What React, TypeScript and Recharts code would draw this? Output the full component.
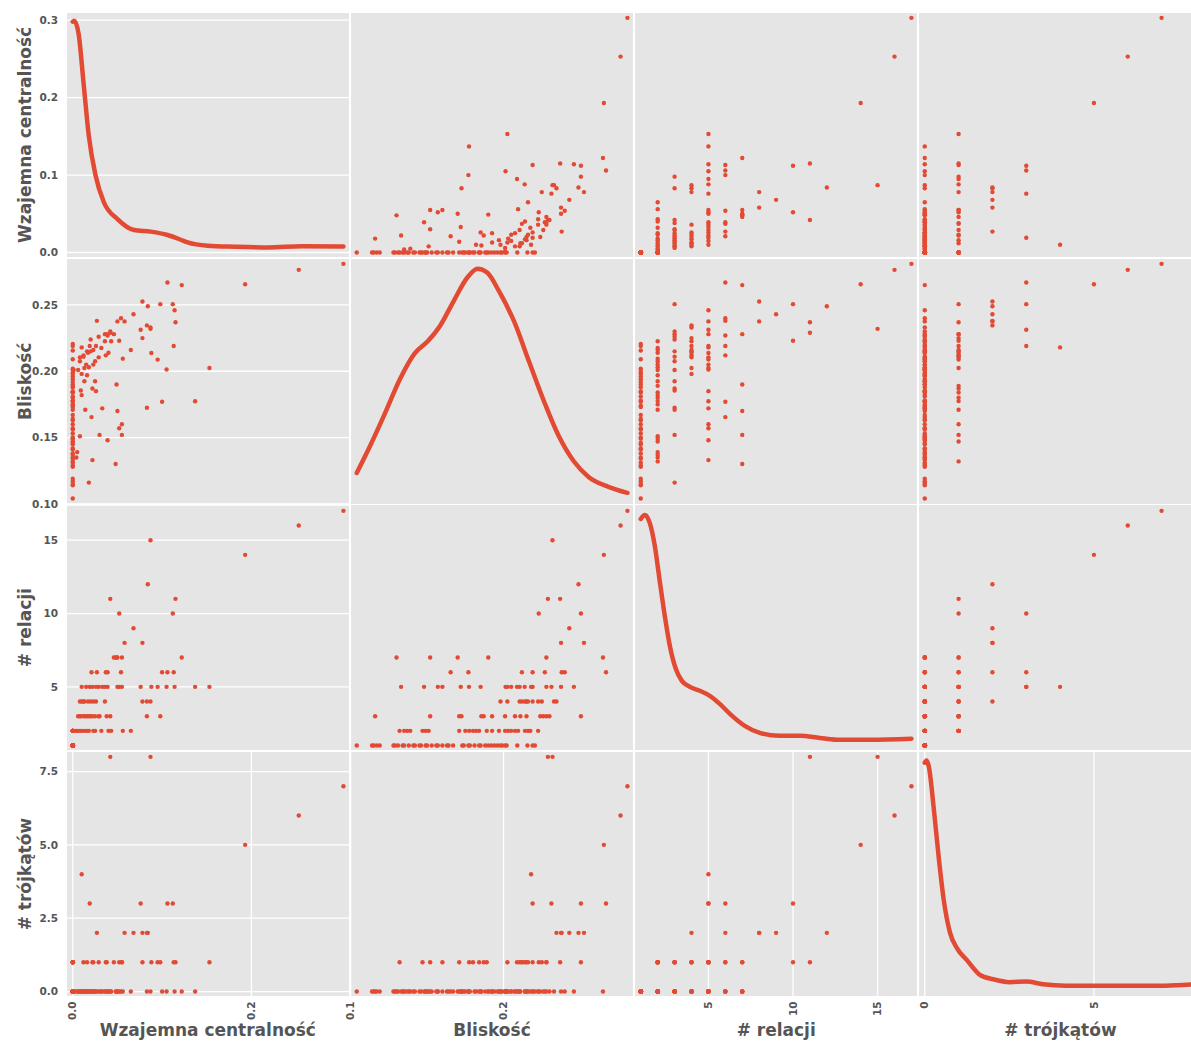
import React from "react";
import {
  ScatterChart,
  Scatter,
  ComposedChart,
  Line,
  XAxis,
  YAxis,
  CartesianGrid,
} from "recharts";

const RED = "#E24A33";
const PANEL_BG = "#E5E5E5";
const TEXT = "#555555";
const FONT = "'DejaVu Sans', Verdana, sans-serif";

// layout of the 4x4 grid (page pixels)
const LEFT = 65.7;
const TOP = 11.7;
const PW = 284.2;
const PH = 246.4;
const YAXIS_W = 60;
const XAXIS_H = 40;
const M = 12; // spare room round each chart so edge tick labels are not cut

// one entry per node, grouped by degree (17 ... 1)
const degree = [
  17, 16, 15, 14, 12, 11, 11, 10, 10, 9, 8, 8,
  7, 7, 7, 7, 7, 7,
  6, 6, 6, 6, 6, 6, 6, 6,
  5, 5, 5, 5, 5, 5, 5, 5, 5, 5, 5, 5, 5, 5, 5, 5, 5, 5, 5,
  4, 4, 4, 4, 4, 4, 4, 4, 4, 4, 4, 4,
  3, 3, 3, 3, 3, 3, 3, 3, 3, 3, 3, 3, 3, 3, 3, 3,
  2, 2, 2, 2, 2, 2, 2, 2, 2, 2, 2, 2, 2, 2, 2, 2, 2, 2, 2, 2, 2, 2, 2, 2, 2,
  1, 1, 1, 1, 1, 1, 1, 1, 1, 1, 1, 1, 1, 1, 1, 1, 1, 1, 1, 1, 1, 1,
  1, 1, 1, 1, 1, 1, 1, 1, 1, 1, 1, 1, 1, 1, 1, 1, 1, 1, 1, 1, 1, 1,
];

const triangles = [
  7, 6, 8, 5, 2, 1, 8, 3, 1, 2, 2, 2,
  0, 1, 0, 0, 1, 0,
  3, 0, 2, 0, 1, 0, 1, 0,
  1, 0, 0, 0, 1, 1, 3, 1, 0, 0, 0, 0, 0, 1, 0, 3, 4, 0, 0,
  0, 2, 1, 0, 0, 1, 0, 0, 1, 0, 0, 0,
  1, 0, 0, 1, 0, 0, 0, 1, 0, 0, 0, 0, 1, 0, 0, 0,
  0, 0, 0, 0, 0, 0, 0, 0, 0, 0, 0, 0, 0, 0, 0, 1, 1, 1, 1, 0, 1, 0, 1, 0, 1,
  0, 0, 0, 0, 0, 0, 0, 0, 0, 0, 0, 0, 0, 0, 0, 0, 0, 0, 0, 0, 0, 0,
  0, 0, 0, 0, 0, 0, 0, 0, 0, 0, 0, 0, 0, 0, 0, 0, 0, 0, 0, 0, 0, 0,
];

const betweenness = [
  0.303, 0.253, 0.087, 0.193, 0.084, 0.115, 0.042, 0.112, 0.052, 0.068, 0.078, 0.058,
  0.122, 0.046, 0.049, 0.05, 0.055, 0.048,
  0.106, 0.054, 0.027, 0.1, 0.113, 0.039, 0.037, 0.021,
  0.153, 0.137, 0.114, 0.105, 0.095, 0.088, 0.076, 0.055, 0.052, 0.05, 0.039, 0.036, 0.033,
  0.029, 0.026, 0.019, 0.01, 0.015, 0.022,
  0.087, 0.083, 0.078, 0.036, 0.026, 0.023, 0.02, 0.017, 0.012, 0.008, 0.013, 0.01,
  0.098, 0.083, 0.042, 0.038, 0.029, 0.02, 0.018, 0.016, 0.012, 0.008, 0.006, 0.025, 0.022,
  0.009, 0.014, 0.03,
  0.065, 0.056, 0.043, 0.04, 0.032, 0.025, 0.023, 0.018, 0.016, 0.013, 0.01, 0.008, 0.005,
  0.004, 0.001, 0, 0, 0, 0, 0, 0, 0, 0, 0, 0,
  0, 0, 0, 0, 0, 0, 0, 0, 0, 0, 0, 0, 0, 0, 0, 0, 0, 0, 0, 0, 0, 0,
  0, 0, 0, 0, 0, 0, 0, 0, 0, 0, 0, 0, 0, 0, 0, 0, 0, 0, 0, 0, 0, 0,
];

const closeness = [
  0.281, 0.2765, 0.232, 0.2656, 0.249, 0.237, 0.229, 0.2506, 0.223, 0.243, 0.2526, 0.2376,
  0.265, 0.228, 0.19, 0.17, 0.152, 0.13,
  0.267, 0.24, 0.238, 0.177, 0.219, 0.227, 0.212, 0.1654,
  0.2025, 0.1774, 0.246, 0.2013, 0.2088, 0.2138, 0.2313, 0.16, 0.157, 0.2376, 0.148, 0.228,
  0.172, 0.2105, 0.185, 0.219, 0.218, 0.205, 0.133,
  0.233, 0.2346, 0.225, 0.2226, 0.219, 0.216, 0.215, 0.214, 0.212, 0.2105, 0.2025, 0.198,
  0.2506, 0.1725, 0.23, 0.228, 0.226, 0.224, 0.116, 0.215, 0.211, 0.2075, 0.201, 0.1925,
  0.187, 0.1855, 0.171, 0.152,
  0.216, 0.2095, 0.2226, 0.214, 0.2175, 0.2075, 0.205, 0.203, 0.197, 0.1925, 0.182, 0.151,
  0.139, 0.135, 0.201, 0.189, 0.184, 0.18, 0.1775, 0.175, 0.171, 0.149, 0.147, 0.137, 0.132,
  0.104, 0.114, 0.115, 0.117, 0.119, 0.128, 0.129, 0.131, 0.134, 0.135, 0.138, 0.141, 0.142,
  0.145, 0.146, 0.149, 0.15, 0.153, 0.156, 0.157, 0.16, 0.163,
  0.164, 0.167, 0.173, 0.174, 0.177, 0.178, 0.181, 0.184, 0.185, 0.188, 0.19, 0.192, 0.194,
  0.196, 0.198, 0.199, 0.201, 0.202, 0.209, 0.2156, 0.219, 0.2205,
];

// density curves on the diagonal in the row variable's units
const btwKdeX = [0, 0.0017, 0.0065, 0.0122, 0.0178, 0.0254, 0.0347, 0.0498, 0.0685, 0.0874, 0.1062, 0.121, 0.1287, 0.1513, 0.1813, 0.219, 0.2565, 0.303];
const btwKdeY = [0.298, 0.2993, 0.2826, 0.2174, 0.1522, 0.1, 0.0652, 0.0434, 0.0291, 0.027, 0.0226, 0.0165, 0.013, 0.0087, 0.0074, 0.0065, 0.0082, 0.0078];

const cloKdeX = [0.104, 0.1127, 0.1225, 0.1322, 0.1419, 0.1504, 0.1582, 0.1679, 0.1763, 0.1829, 0.1893, 0.1971, 0.2069, 0.2166, 0.2264, 0.2361, 0.2458, 0.2556, 0.2686, 0.281];
const cloKdeY = [0.1233, 0.1436, 0.1684, 0.194, 0.2135, 0.2226, 0.2338, 0.2541, 0.2707, 0.2774, 0.2744, 0.2602, 0.2376, 0.2075, 0.1774, 0.1511, 0.1323, 0.1203, 0.1128, 0.1083];

const degKdeX = [1, 1.24, 1.53, 1.83, 2.12, 2.42, 2.72, 3.07, 3.43, 3.9, 4.49, 5.08, 5.67, 6.27, 7.15, 8.04, 9.22, 10.41, 11.59, 12.78, 14.55, 17];
const degKdeY = [16.45, 16.72, 16.18, 14.61, 12.23, 9.84, 7.79, 6.23, 5.41, 5.0, 4.73, 4.39, 3.84, 3.16, 2.34, 1.86, 1.66, 1.66, 1.52, 1.39, 1.39, 1.46];

const triKdeX = [0, 0.05, 0.12, 0.26, 0.41, 0.56, 0.75, 0.95, 1.24, 1.63, 2.02, 2.51, 3.0, 3.49, 4.18, 5.15, 6.13, 7.11, 8];
const triKdeY = [7.8, 7.88, 7.67, 6.31, 4.6, 3.13, 1.99, 1.48, 1.08, 0.57, 0.42, 0.32, 0.34, 0.25, 0.2, 0.2, 0.2, 0.2, 0.25];

// tick values
const btwYTicks = [0, 0.1, 0.2, 0.3];
const btwXTicks = [0, 0.2];
const cloYTicks = [0.1, 0.15, 0.2, 0.25];
const cloXTicks = [0.1, 0.2];
const degYTicks = [5, 10, 15];
const degXTicks = [5, 10, 15];
const triYTicks = [0, 2.5, 5, 7.5];
const triXTicks = [0, 5];

type Variable = {
  name: string;
  values: number[];
  yTicks: number[];
  xTicks: number[];
  yDigits: number;
  xDigits: number;
  kdeX: number[];
  kdeY: number[];
};

const variables: Variable[] = [
  { name: "Wzajemna centralność", values: betweenness, yTicks: btwYTicks, xTicks: btwXTicks, yDigits: 1, xDigits: 1, kdeX: btwKdeX, kdeY: btwKdeY },
  { name: "Bliskość", values: closeness, yTicks: cloYTicks, xTicks: cloXTicks, yDigits: 2, xDigits: 1, kdeX: cloKdeX, kdeY: cloKdeY },
  { name: "# relacji", values: degree, yTicks: degYTicks, xTicks: degXTicks, yDigits: 0, xDigits: 0, kdeX: degKdeX, kdeY: degKdeY },
  { name: "# trójkątów", values: triangles, yTicks: triYTicks, xTicks: triXTicks, yDigits: 1, xDigits: 0, kdeX: triKdeX, kdeY: triKdeY },
];

function paddedDomain(values: number[]): [number, number] {
  const lo = Math.min(...values);
  const hi = Math.max(...values);
  const pad = (hi - lo) * 0.025;
  return [lo - pad, hi + pad];
}

const tickStyle = { fontFamily: FONT, fontSize: 10.5, fontWeight: 700, fill: TEXT };

function YTick(props: any, digits: number) {
  const { x, y, payload } = props;
  return (
    <text x={x} y={y} dy="0.35em" textAnchor="end" {...tickStyle}>
      {Number(payload.value).toFixed(digits)}
    </text>
  );
}

function XTick(props: any, digits: number) {
  const { x, y, payload } = props;
  return (
    <text
      x={x}
      y={y}
      dy="0.35em"
      textAnchor="end"
      transform={`rotate(-90 ${x} ${y})`}
      {...tickStyle}
    >
      {Number(payload.value).toFixed(digits)}
    </text>
  );
}

function Panel({ row, col }: { row: number; col: number }) {
  const xv = variables[col];
  const yv = variables[row];
  const isLeft = col === 0;
  const isBottom = row === 3;
  const width = PW + (isLeft ? YAXIS_W : 0) + 2 * M;
  const height = PH + (isBottom ? XAXIS_H : 0) + 2 * M;
  const pos: React.CSSProperties = {
    position: "absolute",
    left: LEFT + col * PW - (isLeft ? YAXIS_W : 0) - M,
    top: TOP + row * PH - M,
  };
  const margin = { top: M, right: M, bottom: M, left: M };

  const axes = [
    <XAxis
      key="x"
      type="number"
      dataKey="x"
      domain={paddedDomain(xv.values)}
      allowDataOverflow
      ticks={xv.xTicks}
      interval={0}
      hide={!isBottom}
      height={XAXIS_H}
      tickSize={2}
      tickMargin={2}
      tickLine={false}
      axisLine={false}
      tick={(p: any) => XTick(p, xv.xDigits)}
    />,
    <YAxis
      key="y"
      type="number"
      dataKey="y"
      domain={paddedDomain(yv.values)}
      allowDataOverflow
      ticks={yv.yTicks}
      interval={0}
      hide={!isLeft}
      width={YAXIS_W}
      tickSize={6}
      tickMargin={2}
      tickLine={false}
      axisLine={false}
      tick={(p: any) => YTick(p, yv.yDigits)}
    />,
    <CartesianGrid
      key="g"
      horizontal={isLeft}
      vertical={isBottom}
      stroke="#ffffff"
      strokeWidth={1.3}
    />,
  ];

  if (row === col) {
    const curve = xv.kdeX.map((x, i) => ({ x, y: xv.kdeY[i] }));
    return (
      <div style={pos}>
        <ComposedChart width={width} height={height} data={curve} margin={margin}>
          {axes}
          <Line
            type="monotone"
            dataKey="y"
            stroke={RED}
            strokeWidth={4.5}
            strokeLinecap="round"
            dot={false}
            isAnimationActive={false}
          />
        </ComposedChart>
      </div>
    );
  }

  const points = xv.values.map((x, i) => ({ x, y: yv.values[i] }));
  return (
    <div style={pos}>
      <ScatterChart width={width} height={height} margin={margin}>
        {axes}
        <Scatter
          data={points}
          isAnimationActive={false}
          shape={(p: any) => <circle cx={p.cx} cy={p.cy} r={2.2} fill={RED} />}
        />
      </ScatterChart>
    </div>
  );
}

export default function App() {
  const cells: { row: number; col: number }[] = [];
  for (let r = 0; r < 4; r++) for (let c = 0; c < 4; c++) cells.push({ row: r, col: c });

  return (
    <div
      style={{
        position: "absolute",
        left: 0,
        top: 0,
        width: 1191,
        height: 1041,
        overflow: "hidden",
        background: "#ffffff",
        fontFamily: FONT,
      }}
    >
      {cells.map(({ row, col }) => (
        <div
          key={`bg-${row}-${col}`}
          style={{
            position: "absolute",
            left: LEFT + col * PW + 0.8,
            top: TOP + row * PH + 0.8,
            width: PW - 1.6,
            height: PH - 1.6,
            background: PANEL_BG,
          }}
        />
      ))}
      {cells.map(({ row, col }) => (
        <Panel key={`p-${row}-${col}`} row={row} col={col} />
      ))}
      <svg
        width={1191}
        height={1041}
        style={{ position: "absolute", left: 0, top: 0, pointerEvents: "none" }}
      >
        {variables.map((v, i) => (
          <text
            key={`xl-${i}`}
            x={LEFT + PW * (i + 0.5)}
            y={1036}
            textAnchor="middle"
            fontFamily={FONT}
            fontSize={17}
            fontWeight={700}
            fill={TEXT}
          >
            {v.name}
          </text>
        ))}
        {variables.map((v, i) => (
          <text
            key={`yl-${i}`}
            transform={`translate(25.5 ${TOP + PH * (i + 0.5)}) rotate(-90)`}
            textAnchor="middle"
            dy="0.35em"
            fontFamily={FONT}
            fontSize={17}
            fontWeight={700}
            fill={TEXT}
          >
            {v.name}
          </text>
        ))}
      </svg>
    </div>
  );
}
